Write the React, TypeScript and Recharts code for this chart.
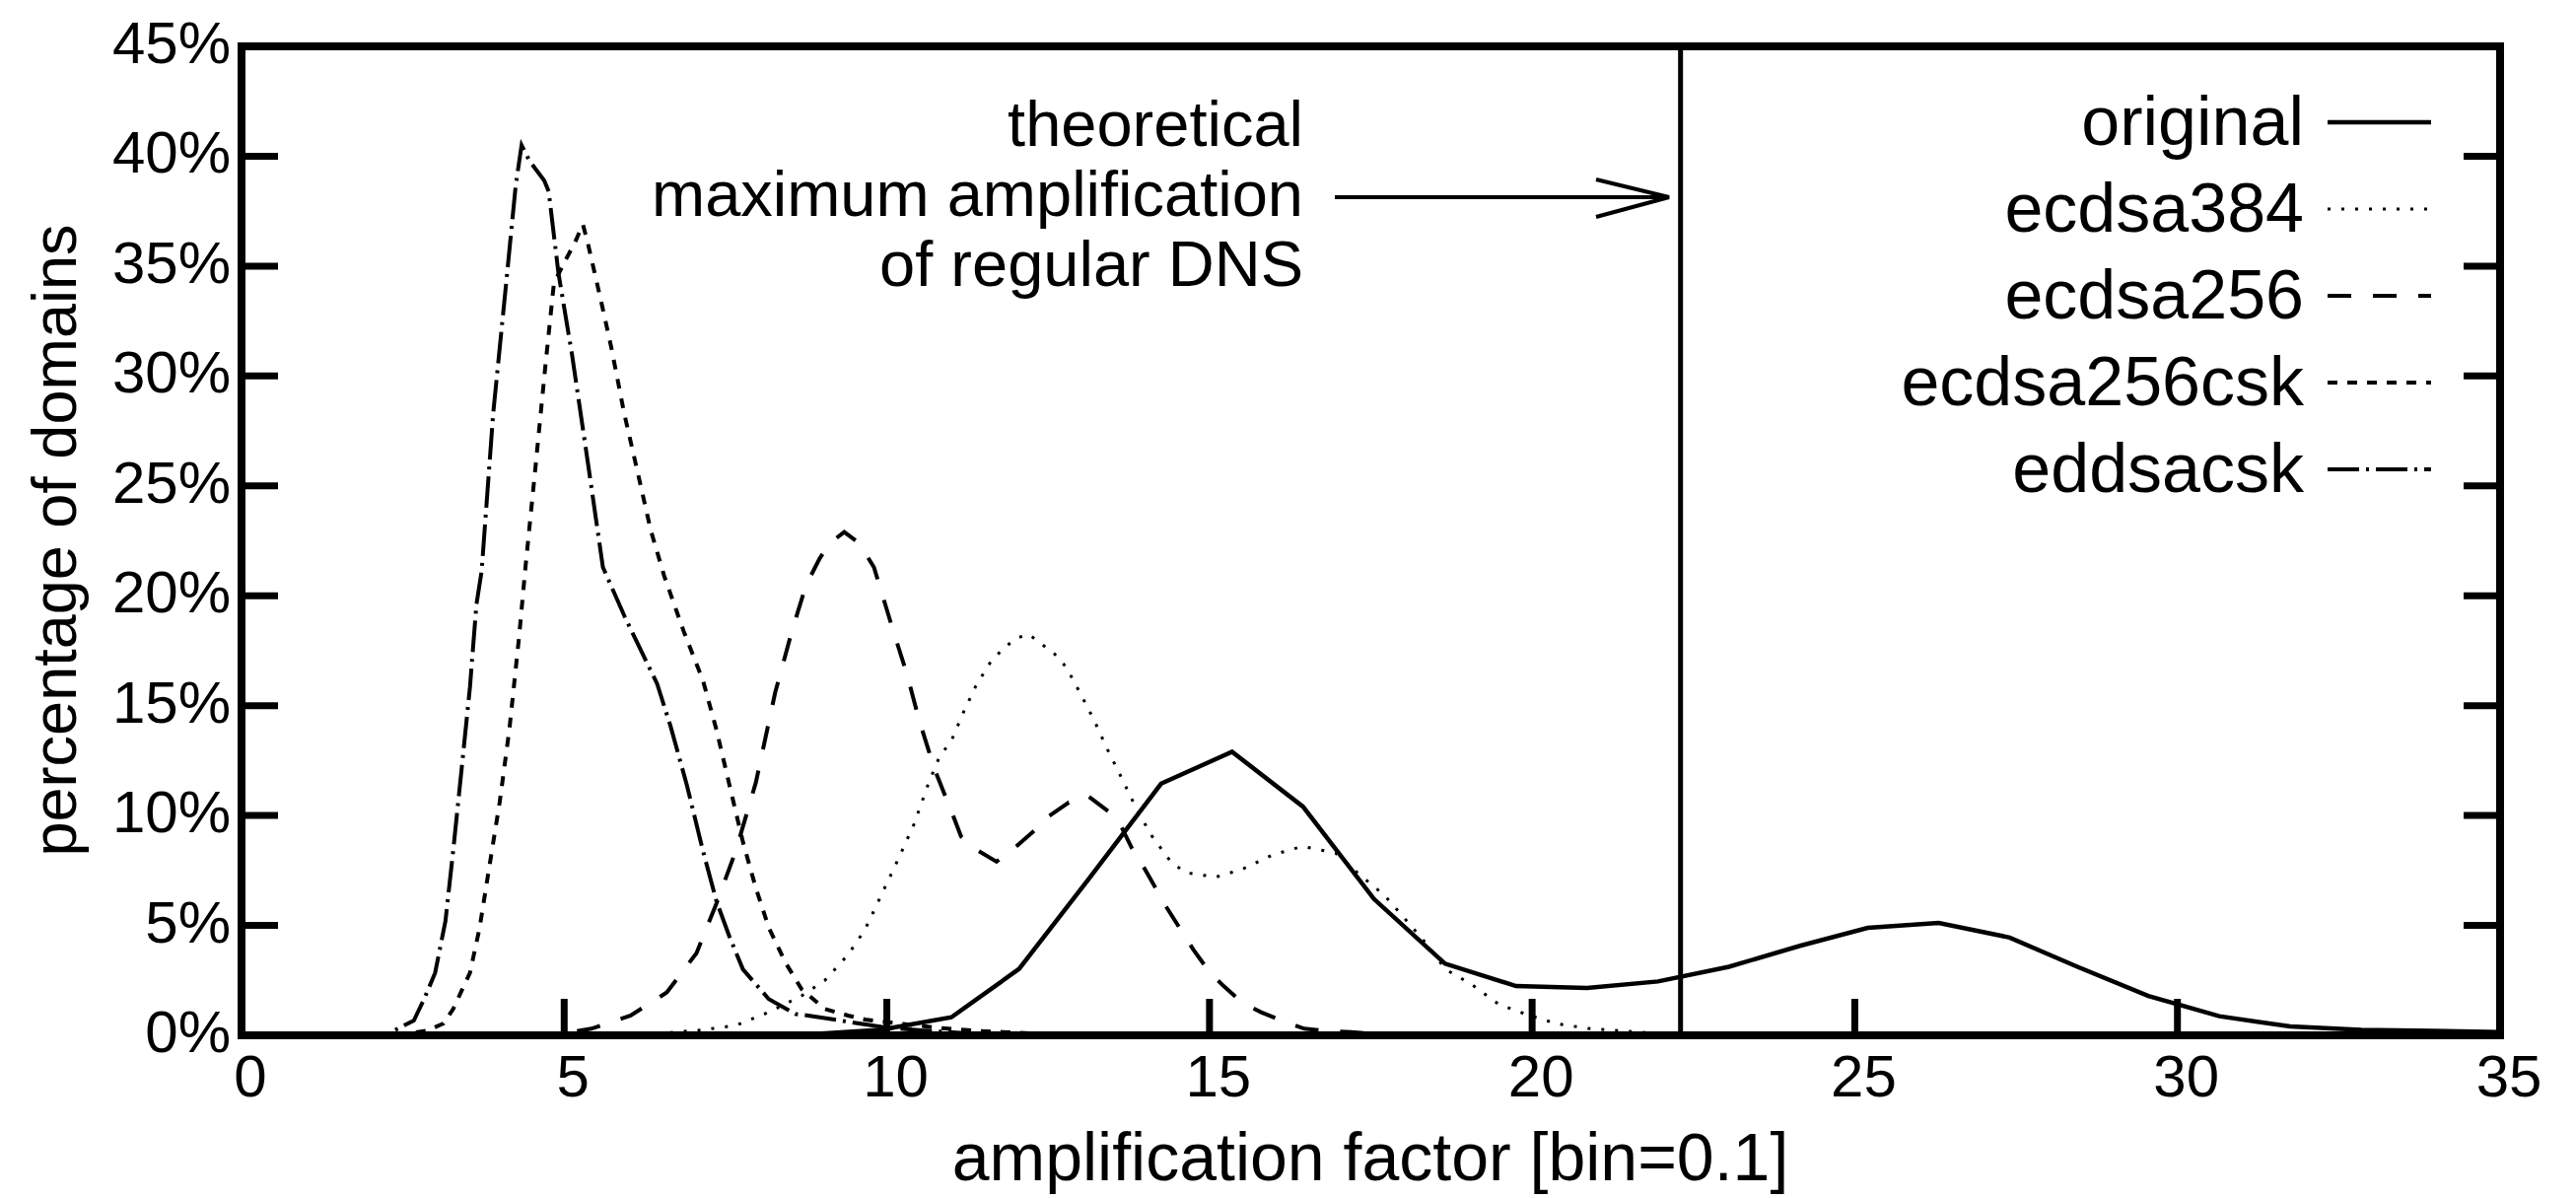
import { LineChart, Line, XAxis, YAxis, ReferenceLine } from "recharts"

// amplification factor vs. share of domains
const xTicks = [0, 5, 10, 15, 20, 25, 30, 35]
const yTicks = [0, 5, 10, 15, 20, 25, 30, 35, 40, 45]
const theoreticalMax = 22.3

const original: [number, number][] = [
  [0, 0], [7.7, 0], [8.8, 0.05], [9.9, 0.25], [11.0, 0.82], [12.05, 3.02], [13.15, 7.2],
  [14.25, 11.45], [15.35, 12.9], [16.45, 10.4], [17.55, 6.2], [18.65, 3.26], [19.75, 2.24],
  [20.85, 2.15], [21.95, 2.45], [23.05, 3.12], [24.15, 4.07], [25.2, 4.89], [26.3, 5.11],
  [27.4, 4.45], [28.45, 3.12], [29.55, 1.79], [30.65, 0.87], [31.75, 0.4], [32.85, 0.25],
  [33.95, 0.2], [35, 0.15],
]

const ecdsa384: [number, number][] = [
  [6.0, 0], [6.75, 0.15], [7.15, 0.25], [7.66, 0.45], [8.17, 1.05], [8.68, 1.8], [9.04, 2.5],
  [9.4, 3.67], [9.66, 4.8], [9.95, 6.6], [10.19, 8.1], [10.42, 9.6], [10.65, 11.5], [10.82, 12.7],
  [11.0, 13.4], [11.18, 14.65], [11.38, 15.9], [11.61, 17.0], [11.84, 17.7], [12.04, 18.1],
  [12.2, 18.25], [12.4, 17.8], [12.6, 17.35], [12.78, 16.75], [13.0, 15.55], [13.21, 14.35],
  [13.42, 13.0], [13.64, 11.7], [13.87, 10.3], [14.1, 9.1], [14.4, 7.9], [14.63, 7.4], [15.1, 7.2],
  [15.5, 7.55], [15.97, 8.2], [16.44, 8.6], [16.95, 8.3], [17.33, 7.3], [17.7, 6.4], [18.0, 5.4],
  [18.31, 4.34], [18.66, 3.0], [19.07, 2.3], [19.48, 1.42], [19.89, 0.97], [20.39, 0.52],
  [20.9, 0.3], [21.62, 0.15], [22.2, 0.05],
]

const ecdsa256: [number, number][] = [
  [4.5, 0], [5.12, 0.15], [5.42, 0.3], [6.03, 0.9], [6.59, 1.95], [7.05, 3.74], [7.36, 6.0],
  [7.66, 8.4], [7.97, 11.5], [8.27, 15.6], [8.53, 18.4], [8.75, 20.5], [8.96, 21.7], [9.12, 22.4],
  [9.34, 22.9], [9.57, 22.4], [9.8, 21.3], [10.1, 18.4], [10.31, 16.45], [10.5, 14.35],
  [10.74, 12.1], [11.0, 10.2], [11.15, 9.05], [11.36, 8.5], [11.7, 7.9], [11.97, 8.5],
  [12.3, 9.35], [12.5, 9.95], [12.82, 10.6], [13.11, 10.9], [13.43, 10.2], [13.6, 9.7],
  [13.8, 8.5], [13.99, 7.6], [14.34, 5.8], [14.75, 3.9], [15.01, 2.84], [15.22, 2.24],
  [15.5, 1.5], [15.8, 1.05], [16.18, 0.6], [16.47, 0.3], [16.91, 0.18], [17.2, 0.15], [17.6, 0.05],
]

const ecdsa256csk: [number, number][] = [
  [2.4, 0], [2.88, 0.22], [3.13, 0.54], [3.28, 1.2], [3.54, 2.84], [3.69, 4.9], [3.82, 7.3],
  [4.0, 10.6], [4.15, 13.9], [4.3, 18.1], [4.4, 21.3], [4.56, 26.0], [4.71, 30.5], [4.84, 34.2],
  [4.99, 35.1], [5.17, 36.1], [5.29, 36.9], [5.37, 36.0], [5.58, 33.3], [5.73, 31.3],
  [5.93, 28.3], [6.14, 25.6], [6.34, 23.0], [6.55, 20.9], [6.85, 18.4], [7.15, 16.15],
  [7.36, 13.9], [7.56, 11.4], [7.77, 8.8], [7.97, 6.7], [8.17, 4.9], [8.43, 3.3], [8.68, 2.1],
  [9.04, 1.2], [9.4, 0.9], [9.66, 0.72], [10.25, 0.52], [10.83, 0.33], [11.42, 0.2],
  [12.0, 0.12], [12.6, 0.05],
]

const eddsacsk: [number, number][] = [
  [1.8, 0], [2.27, 0.08], [2.67, 0.67], [2.83, 1.65], [3.0, 2.84], [3.16, 5.2], [3.28, 8.4],
  [3.41, 12.1], [3.54, 15.85], [3.64, 19.6], [3.72, 21.1], [3.9, 28.3], [4.1, 34.2],
  [4.25, 38.7], [4.34, 40.5], [4.46, 39.8], [4.69, 38.9], [4.76, 38.4], [4.91, 34.7],
  [5.12, 31.0], [5.37, 26.0], [5.6, 21.3], [5.66, 20.9], [5.93, 19.1], [6.29, 16.9],
  [6.44, 16.0], [6.65, 14.05], [6.9, 11.4], [7.15, 8.4], [7.36, 6.1], [7.56, 4.5], [7.77, 3.0],
  [8.17, 1.65], [8.58, 0.97], [8.78, 0.9], [9.37, 0.63], [9.95, 0.37], [10.54, 0.22],
  [11.2, 0.1], [11.8, 0.03],
]

const annotationLines = ["theoretical", "maximum amplification", "of regular DNS"]

const series = [
  { name: "original", points: original, dash: undefined, width: 4.5 },
  { name: "ecdsa384", points: ecdsa384, dash: "3 11", width: 3 },
  { name: "ecdsa256", points: ecdsa256, dash: "24 22", width: 4 },
  { name: "ecdsa256csk", points: ecdsa256csk, dash: "10 10", width: 4 },
  { name: "eddsacsk", points: eddsacsk, dash: "32 7 3 7", width: 4 },
]

const font = "'Liberation Sans', Arial, sans-serif"
const TICK = 37
const frame = { stroke: "#000", strokeWidth: 8, strokeLinecap: "square" as const }

function BottomTick({ x, y, payload }: any) {
  return (
    <g>
      <line x1={x} x2={x} y1={y} y2={y - TICK} stroke="#000" strokeWidth={7} />
      <text x={x + 9} y={y + 62} textAnchor="middle" fontSize={60} fontFamily={font} fill="#000">
        {payload.value}
      </text>
    </g>
  )
}

function TopTick({ x, y }: any) {
  return <line x1={x} x2={x} y1={y} y2={y + TICK} stroke="#000" strokeWidth={7} />
}

function LeftTick({ x, y, payload }: any) {
  return (
    <g>
      <line x1={x} x2={x + TICK} y1={y} y2={y} stroke="#000" strokeWidth={7} />
      <text x={x - 11} y={y + 17} textAnchor="end" fontSize={60} fontFamily={font} fill="#000">
        {payload.value}%
      </text>
    </g>
  )
}

function RightTick({ x, y }: any) {
  return <line x1={x} x2={x - TICK} y1={y} y2={y} stroke="#000" strokeWidth={7} />
}

export default function App() {
  return (
    <div style={{ position: "absolute", left: 0, top: 0, background: "#fff" }}>
      <LineChart width={2613} height={1215} margin={{ top: 46, right: 76, bottom: 164, left: 244 }}>
        <XAxis
          dataKey="x"
          type="number"
          domain={[0, 35]}
          ticks={xTicks}
          allowDataOverflow
          height={1}
          tickSize={0}
          tickMargin={0}
          tickLine={false}
          axisLine={frame}
          tick={<BottomTick />}
        />
        <XAxis
          xAxisId="top"
          orientation="top"
          type="number"
          domain={[0, 35]}
          ticks={xTicks}
          allowDataOverflow
          height={1}
          tickSize={0}
          tickMargin={0}
          tickLine={false}
          axisLine={frame}
          tick={<TopTick />}
        />
        <YAxis
          type="number"
          domain={[0, 45]}
          ticks={yTicks}
          allowDataOverflow
          width={1}
          tickSize={0}
          tickMargin={0}
          tickLine={false}
          axisLine={frame}
          tick={<LeftTick />}
        />
        <YAxis
          yAxisId="right"
          orientation="right"
          type="number"
          domain={[0, 45]}
          ticks={yTicks}
          allowDataOverflow
          width={1}
          tickSize={0}
          tickMargin={0}
          tickLine={false}
          axisLine={frame}
          tick={<RightTick />}
        />
        <ReferenceLine x={theoreticalMax} stroke="#000" strokeWidth={5} />
        {series.map((s) => (
          <Line
            key={s.name}
            name={s.name}
            data={s.points.map(([x, y]) => ({ x, y }))}
            dataKey="y"
            type="linear"
            stroke="#000"
            strokeWidth={s.width}
            strokeDasharray={s.dash}
            dot={false}
            activeDot={false}
            isAnimationActive={false}
          />
        ))}

        {/* annotation for the theoretical maximum */}
        <g fontFamily={font} fontSize={65} fill="#000">
          {annotationLines.map((t, i) => (
            <text key={t} x={1322} y={148 + i * 71} textAnchor="end">
              {t}
            </text>
          ))}
        </g>
        <g stroke="#000" strokeWidth={4} fill="none">
          <line x1={1354} y1={200} x2={1693} y2={200} />
          <polyline points="1619,182 1693,200 1619,220" />
        </g>

        {/* legend */}
        <g fontFamily={font} fontSize={70} fill="#000">
          {series.map((s, i) => (
            <g key={s.name}>
              <text x={2337} y={147 + i * 88} textAnchor="end">
                {s.name}
              </text>
              <line
                x1={2361}
                x2={2466}
                y1={124 + i * 88}
                y2={124 + i * 88}
                stroke="#000"
                strokeWidth={s.width}
                strokeDasharray={s.dash}
              />
            </g>
          ))}
        </g>

        {/* axis titles */}
        <text x={1390} y={1197} textAnchor="middle" fontFamily={font} fontSize={68} fill="#000">
          amplification factor [bin=0.1]
        </text>
        <text
          transform="translate(77,548) rotate(-90)"
          textAnchor="middle"
          fontFamily={font}
          fontSize={63}
          fill="#000"
        >
          percentage of domains
        </text>
      </LineChart>
    </div>
  )
}
